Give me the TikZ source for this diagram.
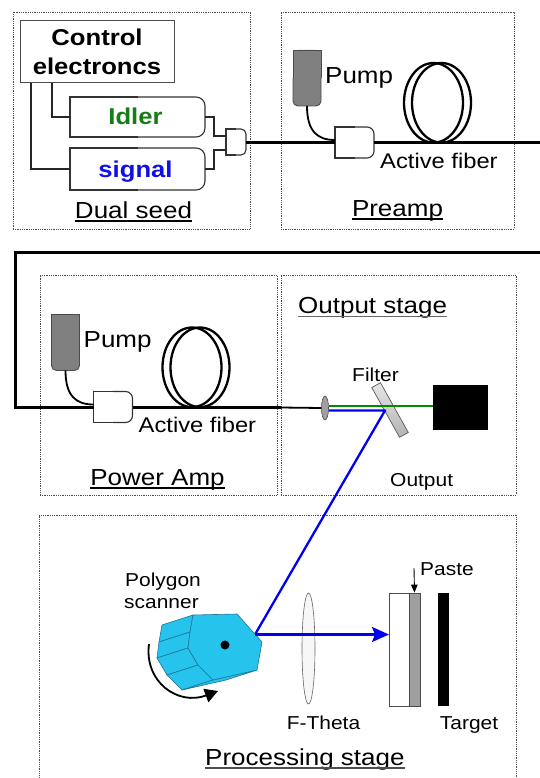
\documentclass[tikz,border=0pt]{standalone}
\usepackage{fontspec}
\setmainfont{Liberation Sans}[FakeStretch=1.12]
\usetikzlibrary{arrows.meta,shapes.geometric}

\definecolor{scancyan}{RGB}{38,196,236}
\definecolor{scanedge}{RGB}{30,115,155}
\definecolor{beamblue}{RGB}{0,0,240}
\definecolor{beamgreen}{RGB}{0,140,0}
\definecolor{idlergreen}{RGB}{20,125,20}
\definecolor{signalblue}{RGB}{15,15,230}
\definecolor{pumpgray}{RGB}{128,128,128}

\newcommand\fntL{\fontsize{23.2}{28}\selectfont}
\newcommand\fntM{\fontsize{21.2}{25}\selectfont}
\newcommand\fntS{\fontsize{18.7}{22}\selectfont}
\newcommand\fntB{\fontsize{22.9}{29}\selectfont\bfseries}

\tikzset{
  stagebox/.style={draw=black!70, densely dotted, line width=0.8pt},
  fiber/.style={line width=3pt},
  wire/.style={line width=1.1pt, draw=black!85},
  cplline/.style={line width=1.1pt, draw=black!80},
  tapfiber/.style={line width=1.8pt},
  coil/.style={line width=2.3pt},
  pumpedge/.style={line width=0.9pt, draw=black!70},
  lbl/.style={inner sep=0pt, font=\fntL},
  smalllbl/.style={inner sep=0pt, font=\fntS},
  scanner/.style={fill=scancyan, draw=scanedge, line width=0.6pt, line join=round},
  beam/.style={draw=beamblue, line width=2.3pt},
}

% box with square left corners and rounded right corners
\newcommand\dshape[6]{%
  \draw[#1,rounded corners=#6] ({(#2+#4)/2},#3) -- (#4,#3) -- (#4,#5) -- ({(#2+#4)/2},#5);
  \draw[#1] ({(#2+#4)/2},#5) -- (#2,#5) -- (#2,#3) -- ({(#2+#4)/2},#3);}

% pump diode: square top, rounded bottom
\newcommand\pumpbox[4]{%
  \fill[pumpgray,rounded corners=5pt] (#1,#2) rectangle (#3,#4);
  \fill[pumpgray] (#1,#2) rectangle (#3,{(#2+#4)/2});
  \draw[pumpedge,rounded corners=5pt] (#1,{(#2+#4)/2}) -- (#1,#4) -- (#3,#4) -- (#3,{(#2+#4)/2});
  \draw[pumpedge] (#1,{(#2+#4)/2}) -- (#1,#2) -- (#3,#2) -- (#3,{(#2+#4)/2});}

% fibre amplifier: pump, coupler, coil of active fibre
\newcommand\amplifier[1]{%
  \pumpbox{293}{50}{321}{106}
  \coordinate (#1-pumpout) at (307,106);
  \dshape{cplline}{335}{127}{374}{158}{7pt}
  \coordinate (#1-in) at (335,143);
  \coordinate (#1-tap) at (335,140);
  \coordinate (#1-out) at (374,143);
  \draw[tapfiber] (#1-pumpout) .. controls (307,132) and (318,140) .. (#1-tap);
  \draw[coil] (433.5,102.8) ellipse [x radius=29.5, y radius=39.8];
  \draw[coil] (441.5,102.8) ellipse [x radius=29.5, y radius=39.8];
  \node[lbl, anchor=base west] (#1-pump) at (325,83.3) {Pump};
  \node[lbl, font=\fntM, anchor=base west] (#1-fiber) at (380,168.3) {Active fiber};
}

\newcommand\uline[2]{\draw[#1, line width=1.3pt] ([yshift=-3pt]#2.base west) -- ([yshift=-3pt]#2.base east);}

\begin{document}
\begin{tikzpicture}[x=1pt,y=-1pt]
\useasboundingbox (0,0) rectangle (540,778);

% ---------- stage frames ----------
\node[stagebox, minimum width=237, minimum height=217] (seedframe) at (131.5,120.5) {};
\node[stagebox, minimum width=233, minimum height=217] (preframe) at (397.5,120.5) {};
\node[stagebox, minimum width=237, minimum height=220] (powframe) at (158.5,385) {};
\node[stagebox, minimum width=235, minimum height=220] (outframe) at (398.5,385) {};
\draw[stagebox] (39,790) -- (39,515) -- (516,515) -- (516,790);

% ---------- dual seed ----------
\node[draw=black!70, line width=1pt, minimum width=154, minimum height=62,
      align=center, font=\fntB, inner sep=0pt] (ctrl) at (97,52) {Control\\electroncs};
\coordinate (ctrlA) at (52,83);
\coordinate (ctrlB) at (31,83);

\dshape{cplline}{70}{97}{205}{137}{9pt}
\dshape{cplline}{70}{148}{205}{190}{9pt}
\node[inner sep=0pt, font=\fntB, text=idlergreen, anchor=base] (idler) at (135.5,125) {Idler};
\node[inner sep=0pt, font=\fntB, text=signalblue, anchor=base] (signal) at (135.5,177) {signal};
\coordinate (idlerL) at (70,117);
\coordinate (idlerR) at (205,117);
\coordinate (signalL) at (70,169);
\coordinate (signalR) at (205,169);

\dshape{cplline}{226}{129}{246}{155}{5pt}
\coordinate (combA) at (226,136);
\coordinate (combB) at (226,150);
\coordinate (combOut) at (246,143);

\draw[wire] (ctrlA) |- (idlerL);
\draw[wire] (ctrlB) |- (signalL);
\draw[wire] (idlerR) -- (214,117) |- (combA);
\draw[wire] (signalR) -- (214,169) |- (combB);

\node[lbl, anchor=base] (seedlbl) at (133.5,218) {Dual seed};
\uline{black}{seedlbl}

% ---------- preamp ----------
\amplifier{pre}
\node[lbl, anchor=base] (prelbl) at (397.5,216) {Preamp};
\uline{black}{prelbl}

% ---------- power amp ----------
\begin{scope}[shift={(-241.5,264.5)}]
  \amplifier{pow}
\end{scope}
\node[lbl, anchor=base] (powlbl) at (157.5,485) {Power Amp};
\uline{black}{powlbl}

% ---------- fibre path ----------
\coordinate (edgeTop) at (540,143);
\coordinate (edgeLoop) at (540,252);
\coordinate (loopA) at (15,252);
\coordinate (loopB) at (15,407.5);
\coordinate (frameCross) at (281,407.5);
\draw[fiber] (combOut) -- (pre-in);
\draw[fiber] (pre-out) -- (edgeTop);
\draw[fiber, line join=miter] (edgeLoop) -- (loopA) -- (loopB) -- (pow-in);
\draw[fiber] (pow-out) -- (frameCross);

% ---------- output stage ----------
\node[lbl, anchor=base west] (outlbl) at (298,313.3) {Output stage};
\uline{black!60}{outlbl}

\node[draw=black!70, fill=gray!75, ellipse, minimum width=7, minimum height=24,
      inner sep=0pt, line width=0.6pt] (lens) at (325,408) {};
\draw[line width=1.8pt] (frameCross) -- (lens.west);

\node[draw=black!65, line width=0.7pt, top color=gray!20, bottom color=gray!60,
      minimum width=57, minimum height=10, inner sep=0pt, rotate=-60.8] (filter) at (390,410) {};
\node[fill=black, minimum width=55, minimum height=45, inner sep=0pt] (dump) at (460.5,407.5) {};

\coordinate (lensOutG) at (328.5,406.3);
\coordinate (lensOutB) at (328.5,410.5);
\coordinate (filterHit) at (385,410.5);
\coordinate (scanHit) at (255,634.5);
\coordinate (plateHit) at (389,634.5);
\draw[beamgreen, line width=1.8pt] (lensOutG) -- (dump.west |- lensOutG);
\draw[beam, line join=round] (lensOutB) -- (filterHit) -- (scanHit);

\node[smalllbl, anchor=base west] (filterlbl) at (352,381.7) {Filter};
\node[smalllbl, anchor=base west] (outputlbl) at (390,486) {Output};

% ---------- processing stage ----------
% polygon scanner: side facets, bottom rim, then front face
\filldraw[scanner] (193,615) -- (190,632) -- (159,642) -- (162,625) -- cycle;
\filldraw[scanner] (190,632) -- (188,648) -- (157,658) -- (159,642) -- cycle;
\filldraw[scanner] (188,648) -- (198,665) -- (167,675) -- (157,658) -- cycle;
\filldraw[scanner] (198,665) -- (213,680) -- (182,690) -- (167,675) -- cycle;
\filldraw[scanner] (213,680) -- (257,670) -- (226,680) -- (182,690) -- cycle;
\filldraw[scanner] (193,615) -- (237,614) -- (262,642) -- (257,670) -- (213,680)
  -- (198,665) -- (188,648) -- (190,632) -- cycle;
\fill (225,645) circle (4.5);

\coordinate (rotA) at (149,644);
\coordinate (rotB) at (218,691);
\draw[line width=1.8pt, -{Triangle[length=13pt,width=14pt]}] (rotA) .. controls (144,682) and (178,706) .. (rotB);

\node[smalllbl, anchor=base] (polylbl) at (163,586) {Polygon};
\node[smalllbl, anchor=base] (scanlbl) at (161.5,608) {scanner};

\node[draw=black!60, line width=0.6pt, fill=gray!6, ellipse, minimum width=13, minimum height=111,
      inner sep=0pt] (ftheta) at (308.5,648.5) {};
\node[draw=black!70, line width=0.8pt, minimum width=20, minimum height=113, inner sep=0pt] (plate) at (399,649.5) {};
\node[draw=black!70, line width=0.8pt, fill=gray!75, minimum width=11, minimum height=113, inner sep=0pt] (paste) at (414.5,649.5) {};
\node[fill=black, minimum width=11, minimum height=113, inner sep=0pt] (target) at (443.5,649.5) {};

\draw[beam, -{Stealth[length=17pt,width=15pt,inset=3pt]}] (scanHit) -- (plateHit);

\coordinate (pasteArrow) at (414,568);
\draw[line width=0.9pt, -{Triangle[length=8pt,width=6.5pt]}] (pasteArrow) -- (paste.north);
\node[smalllbl, anchor=base west] (pastelbl) at (420,575) {Paste};
\node[smalllbl, anchor=base] (fthetalbl) at (323.5,729.3) {F-Theta};
\node[smalllbl, anchor=base] (targetlbl) at (469,729.3) {Target};

\node[lbl, anchor=base west] (proclbl) at (205,765) {Processing stage};
\uline{black!70}{proclbl}
\end{tikzpicture}
\end{document}
